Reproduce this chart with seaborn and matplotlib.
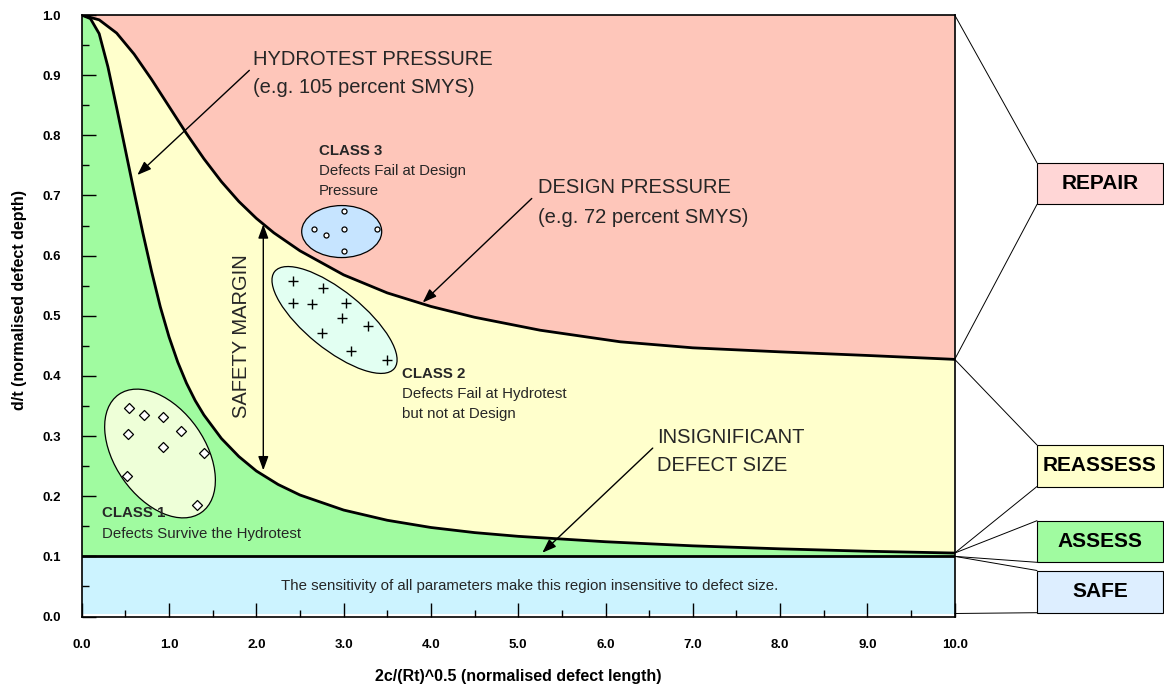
import numpy as np
import matplotlib
matplotlib.use("Agg")
import matplotlib.pyplot as plt
import seaborn as sns
import pandas as pd
from matplotlib.patches import Ellipse, Rectangle, ConnectionPatch
from matplotlib.transforms import ScaledTranslation

# ---------------- data ----------------
design_x = [0.0, 0.2, 0.4, 0.6, 0.8, 1.0, 1.2, 1.4, 1.6, 1.8, 2.0, 2.2, 2.5,
            3.0, 3.5, 4.0, 4.5, 5.25, 6.17, 7.0, 8.0, 9.0, 10.0]
design_y = [1.0, 0.992, 0.970, 0.935, 0.893, 0.848, 0.803, 0.761, 0.723, 0.690, 0.662, 0.638, 0.608,
            0.568, 0.538, 0.5155, 0.4975, 0.476, 0.4567, 0.4467, 0.440, 0.434, 0.4275]

hydro_x = [0.0, 0.1, 0.2, 0.3, 0.4, 0.5, 0.6, 0.7, 0.8, 0.9, 1.0, 1.1, 1.2, 1.3, 1.4, 1.6, 1.8,
           2.0, 2.25, 2.5, 3.0, 3.5, 4.0, 4.5, 5.0, 6.0, 7.0, 8.0, 9.0, 10.0]
hydro_y = [1.0, 0.994, 0.969, 0.914, 0.846, 0.776, 0.706, 0.638, 0.574, 0.515, 0.465, 0.423, 0.388,
           0.359, 0.335, 0.296, 0.266, 0.242, 0.2195, 0.202, 0.177, 0.160, 0.148, 0.1395, 0.1333,
           0.1243, 0.1175, 0.1125, 0.1085, 0.1055]

threshold = 0.1

class1_x = [0.545, 0.714, 0.935, 0.534, 1.134, 0.935, 1.401, 0.515, 1.317]
class1_y = [0.347, 0.335, 0.332, 0.303, 0.309, 0.281, 0.272, 0.234, 0.185]

class2_x = [2.424, 2.767, 2.424, 2.635, 3.024, 2.978, 3.276, 2.749, 3.085, 3.494]
class2_y = [0.557, 0.546, 0.521, 0.519, 0.522, 0.497, 0.483, 0.472, 0.441, 0.426]

class3_x = [3.001, 2.661, 2.795, 3.001, 3.379, 3.001]
class3_y = [0.675, 0.644, 0.634, 0.644, 0.644, 0.608]

x_ticks = [0, 1, 2, 3, 4, 5, 6, 7, 8, 9, 10]
y_ticks = [0.0, 0.1, 0.2, 0.3, 0.4, 0.5, 0.6, 0.7, 0.8, 0.9, 1.0]

categories = ["REPAIR", "REASSESS", "ASSESS", "SAFE"]

# ---------------- colours ----------------
PINK = "#FEC6BA"
YELLOW = "#FFFFCC"
GREEN = "#A0FBA0"
BLUE = "#CCF3FF"
BOX_COLORS = {"REPAIR": "#FFD6D6", "REASSESS": "#FFFFCC", "ASSESS": "#A0FBA0", "SAFE": "#DDEEFF"}

sns.set_theme(style="white")
plt.rcParams["font.family"] = ["Liberation Sans", "DejaVu Sans"]

fig = plt.figure(figsize=(11.64, 6.86), dpi=100)
fig.patch.set_facecolor("white")
ax = fig.add_axes([0.0702, 0.1013, 0.7500, 0.8768])
ax.set_facecolor("white")
ax.set_axisbelow(False)
ax.set_xlim(0, 10)
ax.set_ylim(0, 1)

# ---------------- regions ----------------
ax.fill(design_x + [10, 0], design_y + [1, 1], color=PINK, lw=0, zorder=1)
ax.fill(design_x + hydro_x[::-1], design_y + hydro_y[::-1], color=YELLOW, lw=0, zorder=1)
ax.fill(hydro_x + [10, 0], hydro_y + [threshold, threshold], color=GREEN, lw=0, zorder=1)
ax.fill_between([0, 10], [0.005, 0.005], [threshold, threshold], color=BLUE, lw=0, zorder=1)

# ---------------- curves ----------------
df_design = pd.DataFrame({"x": design_x, "y": design_y})
df_hydro = pd.DataFrame({"x": hydro_x, "y": hydro_y})
sns.lineplot(data=df_design, x="x", y="y", ax=ax, color="black", lw=2.0, estimator=None, sort=False, zorder=4)
sns.lineplot(data=df_hydro, x="x", y="y", ax=ax, color="black", lw=2.0, estimator=None, sort=False, zorder=4)
ax.axhline(threshold, color="black", lw=2.0, zorder=4)

# ---------------- ellipses (sizes in pixels) ----------------
def px_ellipse(cx, cy, a, b, ang, fc):
    tr = fig.dpi_scale_trans + ScaledTranslation(cx, cy, ax.transData)
    e = Ellipse((0, 0), 2 * a / fig.dpi, 2 * b / fig.dpi, angle=ang, transform=tr,
                facecolor=fc, edgecolor="black", lw=0.9, zorder=3)
    ax.add_artist(e)

px_ellipse(0.897, 0.271, 72, 45, -55, "#EEFFD8")
px_ellipse(2.896, 0.493, 77, 29, -39, "#E2FFF2")
px_ellipse(2.978, 0.640, 40, 26, 0, "#C6E4FF")

# ---------------- defect markers ----------------
sns.scatterplot(x=class1_x, y=class1_y, ax=ax, marker="D", s=26, facecolor="white",
                edgecolor="black", linewidth=0.9, zorder=5)
sns.scatterplot(x=class2_x, y=class2_y, ax=ax, marker="+", s=55, color="black",
                linewidth=1.0, zorder=5)
sns.scatterplot(x=class3_x, y=class3_y, ax=ax, marker="o", s=13, facecolor="white",
                edgecolor="black", linewidth=0.9, zorder=5)

# ---------------- arrows ----------------
ap = dict(arrowstyle="-|>,head_length=0.6,head_width=0.22", color="black", lw=1.0,
          mutation_scale=14, shrinkA=0, shrinkB=0)
ax.annotate("", xy=(0.637, 0.734), xytext=(1.92, 0.908), arrowprops=ap, zorder=6)
ax.annotate("", xy=(3.906, 0.522), xytext=(5.155, 0.695), arrowprops=ap, zorder=6)
ax.annotate("", xy=(5.276, 0.106), xytext=(6.541, 0.280), arrowprops=ap, zorder=6)
ap2 = dict(ap)
ap2["arrowstyle"] = "<|-|>,head_length=0.6,head_width=0.22"
ax.annotate("", xy=(2.08, 0.652), xytext=(2.08, 0.243), arrowprops=ap2, zorder=6)

# ---------------- annotation texts ----------------
big = 14.5
small = 10.8
ax.text(1.966, 0.917, "HYDROTEST PRESSURE", fontsize=big, va="baseline", ha="left", zorder=7)
ax.text(1.966, 0.870, "(e.g. 105 percent SMYS)", fontsize=big, va="baseline", ha="left", zorder=7)
ax.text(5.23, 0.7036, "DESIGN PRESSURE", fontsize=big, va="baseline", ha="left", zorder=7)
ax.text(5.23, 0.6547, "(e.g. 72 percent SMYS)", fontsize=big, va="baseline", ha="left", zorder=7)
ax.text(6.586, 0.288, "INSIGNIFICANT", fontsize=big, va="baseline", ha="left", zorder=7)
ax.text(6.586, 0.242, "DEFECT SIZE", fontsize=big, va="baseline", ha="left", zorder=7)
ax.text(1.833, 0.4655, "SAFETY MARGIN", fontsize=big, rotation=90, va="center", ha="center", zorder=7)

ax.text(2.718, 0.767, "CLASS 3", fontsize=small, fontweight="bold", va="baseline", zorder=7)
ax.text(2.718, 0.734, "Defects Fail at Design", fontsize=small, va="baseline", zorder=7)
ax.text(2.718, 0.7007, "Pressure", fontsize=small, va="baseline", zorder=7)

ax.text(3.665, 0.396, "CLASS 2", fontsize=small, fontweight="bold", va="baseline", zorder=7)
ax.text(3.665, 0.363, "Defects Fail at Hydrotest", fontsize=small, va="baseline", zorder=7)
ax.text(3.665, 0.3295, "but not at Design", fontsize=small, va="baseline", zorder=7)

ax.text(0.229, 0.1654, "CLASS 1", fontsize=small, fontweight="bold", va="baseline", zorder=7)
ax.text(0.229, 0.1305, "Defects Survive the Hydrotest", fontsize=small, va="baseline", zorder=7)

ax.text(5.133, 0.044, "The sensitivity of all parameters make this region insensitive to defect size.",
        fontsize=small, ha="center", va="baseline", zorder=7)

# ---------------- axes styling ----------------
ax.set_xticks(x_ticks)
ax.set_xticklabels([f"{v:.1f}" for v in x_ticks])
ax.set_xticks(np.arange(0.5, 10, 1.0), minor=True)
ax.set_yticks(y_ticks)
ax.set_yticklabels([f"{v:.1f}" for v in y_ticks])
ax.set_yticks(np.arange(0.05, 1.0, 0.1), minor=True)
ax.tick_params(axis="both", which="major", direction="in", length=10, width=1.0, color="black",
               labelsize=9.5, labelcolor="black")
ax.tick_params(axis="both", which="minor", direction="in", length=5, width=1.0, color="black")
ax.tick_params(axis="x", which="major", pad=16, bottom=True, top=False)
ax.tick_params(axis="x", which="minor", bottom=True, top=False)
ax.tick_params(axis="y", which="major", pad=15, left=True, right=False)
ax.tick_params(axis="y", which="minor", left=True, right=False)
for lbl in ax.get_xticklabels() + ax.get_yticklabels():
    lbl.set_fontweight("bold")
for sp in ax.spines.values():
    sp.set_visible(True)
    sp.set_color("black")
    sp.set_linewidth(1.2)
    sp.set_zorder(8)

ax.set_xlabel("2c/(Rt)^0.5 (normalised defect length)", fontsize=11.5, fontweight="bold", color="black")
ax.set_ylabel("d/t (normalised defect depth)", fontsize=11.5, fontweight="bold", color="black")
ax.xaxis.set_label_coords(0.5, -0.087)
ax.yaxis.set_label_coords(-0.0627, 0.526)

# ---------------- right-hand classification boxes ----------------
box_x0 = 1037 / 1164
box_w = (1163 - 1037) / 1164
box_rows = {  # (top px, bottom px)
    "REPAIR": (162.8, 204.4),
    "REASSESS": (445.0, 486.5),
    "ASSESS": (520.7, 562.3),
    "SAFE": (570.5, 612.7),
}
# left ends of the connector pairs (data y on the right spine)
connector_from = {
    "REPAIR": (1.0, design_y[-1]),
    "REASSESS": (design_y[-1], hydro_y[-1]),
    "ASSESS": (hydro_y[-1], threshold),
    "SAFE": (threshold, 0.005),
}
for name in categories:
    top, bot = box_rows[name]
    y0 = 1 - bot / 686
    y1 = 1 - top / 686
    fig.add_artist(Rectangle((box_x0, y0), box_w, y1 - y0, transform=fig.transFigure,
                             facecolor=BOX_COLORS[name], edgecolor="black", lw=0.8))
    fig.text(box_x0 + box_w / 2, (y0 + y1) / 2, name, fontsize=15, fontweight="bold",
             ha="center", va="center", color="black")
    ya, yb = connector_from[name]
    for yd, yf in ((ya, y1), (yb, y0)):
        cp = ConnectionPatch(xyA=(10, yd), coordsA=ax.transData, xyB=(box_x0, yf),
                             coordsB=fig.transFigure, color="black", lw=0.7)
        fig.add_artist(cp)

fig.savefig("out.png", dpi=100, facecolor="white")
